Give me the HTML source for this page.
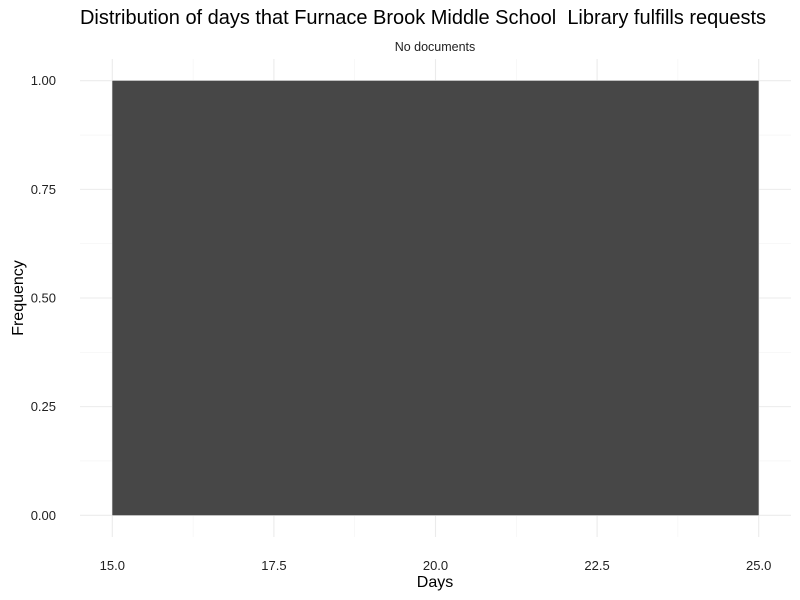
<!DOCTYPE html>
<html><head><meta charset="utf-8">
<style>
html,body{margin:0;padding:0;background:#fff;}
svg{display:block;font-family:"Liberation Sans",Arial,sans-serif;}
</style></head>
<body>
<svg id="chart" width="800" height="600"></svg>
<script>
const binStarts = [15];
const binEnds = [25];
const frequencies = [1];
const xTicks = [15, 17.5, 20, 22.5, 25];
const xTickLabels = ["15.0", "17.5", "20.0", "22.5", "25.0"];
const yTicks = [0, 0.25, 0.5, 0.75, 1];
const yTickLabels = ["0.00", "0.25", "0.50", "0.75", "1.00"];

const NS = "http://www.w3.org/2000/svg";
const svg = document.getElementById("chart");
const panel = {l: 80, r: 791, t: 59, b: 537};
const xMin = 14.5, xMax = 25.5, yMin = -0.05, yMax = 1.05;
function xs(v){return panel.l + (v - xMin) / (xMax - xMin) * (panel.r - panel.l);}
function ys(v){return panel.b - (v - yMin) / (yMax - yMin) * (panel.b - panel.t);}
function mk(tag, attrs, text){
  const e = document.createElementNS(NS, tag);
  for (const k in attrs) e.setAttribute(k, attrs[k]);
  if (text !== undefined) e.textContent = text;
  svg.appendChild(e);
  return e;
}
for (let i = 0; i < xTicks.length - 1; i++) {
  const m = (xTicks[i] + xTicks[i+1]) / 2;
  const g = mk("line", {x1: xs(m), x2: xs(m), y1: panel.t, y2: panel.b, stroke: "#f3f3f3", "stroke-width": 0.6});
  
  
}
for (let i = 0; i < yTicks.length - 1; i++) {
  const m = (yTicks[i] + yTicks[i+1]) / 2;
  const g = mk("line", {x1: panel.l, x2: panel.r, y1: ys(m), y2: ys(m), stroke: "#f3f3f3", "stroke-width": 0.6});
  
  
}
xTicks.forEach((t, i) => {
  const g = mk("line", {x1: xs(t), x2: xs(t), y1: panel.t, y2: panel.b, stroke: "#ebebeb", "stroke-width": 1.1});
  
  
  const l = mk("text", {x: xs(t), y: 570, "text-anchor": "middle", "font-size": 13, fill: "#222"}, xTickLabels[i]);
  
  
});
yTicks.forEach((t, i) => {
  const g = mk("line", {x1: panel.l, x2: panel.r, y1: ys(t), y2: ys(t), stroke: "#ebebeb", "stroke-width": 1.1});
  
  
  const l = mk("text", {x: 56, y: ys(t) + 4.5, "text-anchor": "end", "font-size": 13, fill: "#222"}, yTickLabels[i]);
  
  
});
binStarts.forEach((s, i) => {
  const b = mk("rect", {x: xs(s), y: ys(frequencies[i]), width: xs(binEnds[i]) - xs(s), height: ys(0) - ys(frequencies[i]), fill: "#474747"});
  
  
});
let t = mk("text", {x: 80, y: 24, "text-anchor": "start", "font-size": 20, fill: "#000", textLength: 686}, "Distribution of days that Furnace Brook Middle School  Library fulfills requests");
 
t.style.whiteSpace = 'pre';
t = mk("text", {x: 435, y: 51, "text-anchor": "middle", "font-size": 12.5, fill: "#222"}, "No documents");
 
t = mk("text", {x: 435, y: 587, "text-anchor": "middle", "font-size": 16, fill: "#000"}, "Days");
 
t = mk("text", {x: 23, y: 298, "text-anchor": "middle", "font-size": 16, fill: "#000", transform: "rotate(-90 23 298)"}, "Frequency");
 
</script>
</body></html>
